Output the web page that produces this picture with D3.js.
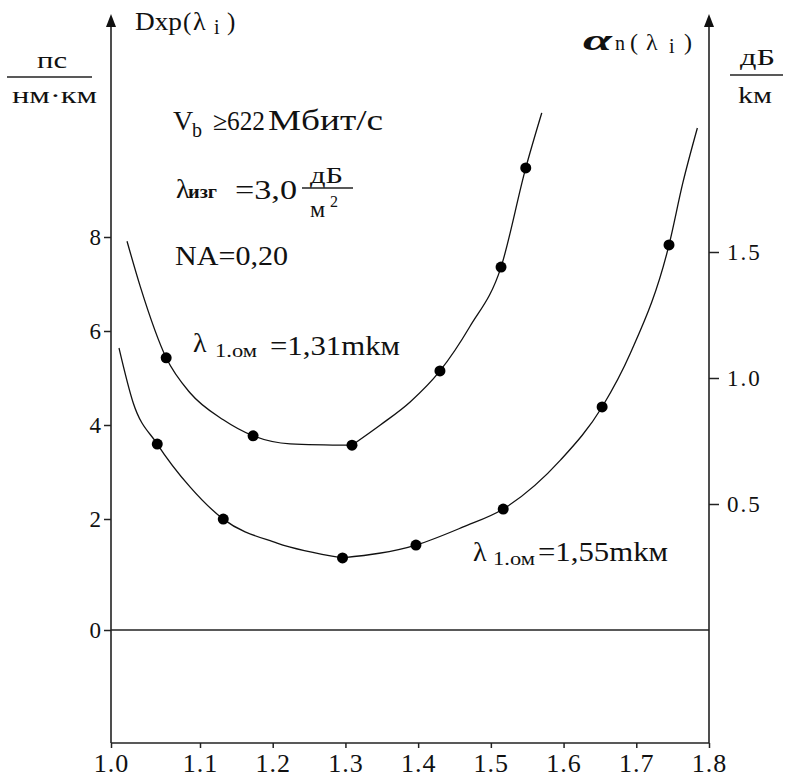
<!DOCTYPE html>
<html>
<head>
<meta charset="utf-8">
<script src="https://cdn.jsdelivr.net/npm/d3@7"></script>
<style>
  body { margin: 0; background: #fff; }
</style>
</head>
<body>
<div class="wrapper"></div>
<script>
const w = 785
const h = 780
const serif = "'Liberation Serif', 'DejaVu Serif', serif"

// tick values
const xTicks = [1.0, 1.1, 1.2, 1.3, 1.4, 1.5, 1.6, 1.7, 1.8]
const leftTicks = [0, 2, 4, 6, 8]
const rightTicks = [0.5, 1.0, 1.5]

// upper curve (λ1.ом = 1,31 mkм), left axis units
const upperLineX = [1.018, 1.033, 1.062, 1.089, 1.132, 1.173, 1.224, 1.309, 1.348, 1.389, 1.430, 1.471, 1.514, 1.548, 1.570]
const upperLineY = [7.91, 6.94, 5.43, 4.68, 4.11, 3.77, 3.60, 3.57, 4.00, 4.49, 5.15, 6.09, 7.36, 9.47, 10.64]
const upperDotX = [1.062, 1.173, 1.309, 1.430, 1.514, 1.548]
const upperDotY = [5.43, 3.77, 3.57, 5.15, 7.36, 9.47]

// lower curve (λ1.ом = 1,55 mkм), right axis units
const lowerLineX = [1.009, 1.025, 1.052, 1.089, 1.132, 1.206, 1.296, 1.397, 1.462, 1.517, 1.596, 1.653, 1.692, 1.745, 1.764, 1.784]
const lowerLineY = [1.119, 0.901, 0.738, 0.567, 0.440, 0.345, 0.286, 0.337, 0.409, 0.480, 0.675, 0.885, 1.099, 1.528, 1.774, 1.992]
const lowerDotX = [1.052, 1.132, 1.296, 1.397, 1.517, 1.653, 1.745]
const lowerDotY = [0.738, 0.440, 0.286, 0.337, 0.480, 0.885, 1.528]

const xLeft = 111
const xRight = 709
const yBottom = 743
const yTop = 14

// hand drawn axes are not quite even, so piecewise scales
const xScale = d3.scaleLinear().domain([1.0, 1.1, 1.8]).range([xLeft, 200, xRight])
const yLeft = d3.scaleLinear().domain([0, 2, 8]).range([630, 519, 237])
const yRight = d3.scaleLinear().domain([0, 1.5]).range([630, 252])

const svg = d3.select(".wrapper")
  .append("svg")
  .attr("width", w)
  .attr("height", h)
  .style("display", "block")

svg.append("rect").attr("width", w).attr("height", h).attr("fill", "#fff")

// axis lines
const axisStroke = "#222"
const hline = (x1, x2, y, sw) => svg.append("line").attr("x1", x1).attr("x2", x2).attr("y1", y).attr("y2", y)
  .attr("stroke", axisStroke).attr("stroke-width", sw)
svg.append("line").attr("x1", xLeft).attr("y1", yBottom).attr("x2", xLeft).attr("y2", yTop + 10)
  .attr("stroke", axisStroke).attr("stroke-width", 1.6)
svg.append("line").attr("x1", xRight).attr("y1", yBottom).attr("x2", xRight).attr("y2", yTop + 10)
  .attr("stroke", axisStroke).attr("stroke-width", 1.6)
hline(xLeft, xRight, yBottom, 1.6)
hline(xLeft, xRight, yLeft(0), 1.6)

// arrow heads
const arrow = (x) => "M" + x + "," + yTop + "L" + (x - 5) + "," + (yTop + 13) + "L" + (x + 5) + "," + (yTop + 13) + "Z"
svg.append("path").attr("d", arrow(xLeft)).attr("fill", "#111")
svg.append("path").attr("d", arrow(xRight)).attr("fill", "#111")

const xAxis = d3.axisBottom(xScale).tickValues(xTicks).tickFormat(d3.format(".1f")).tickSize(5).tickPadding(6)
const leftAxis = d3.axisLeft(yLeft).tickValues(leftTicks).tickSize(7).tickPadding(3)
const rightAxis = d3.axisRight(yRight).tickValues(rightTicks).tickFormat(d3.format(".1f")).tickSize(10).tickPadding(8)

const styleAxis = (size, spacing) => (g) => {
  g.select(".domain").remove()
  g.attr("font-family", null).attr("font-size", null)
  g.selectAll("line").attr("stroke", axisStroke).attr("stroke-width", 1.5)
  g.selectAll("text").attr("fill", "#111")
    .style("font-family", serif).style("font-size", size + "px").style("letter-spacing", spacing + "px")
}

svg.append("g")
  .attr("transform", "translate(0," + yBottom + ")")
  .call(xAxis)
  .call(styleAxis(26, 1))

svg.append("g")
  .attr("transform", "translate(" + xLeft + ",0)")
  .call(leftAxis)
  .call(styleAxis(23, 0))

svg.append("g")
  .attr("transform", "translate(" + xRight + ",0)")
  .call(rightAxis)
  .call(styleAxis(23, 2))

// curves, drawn in two pieces so the minimum dot keeps its corner
const curvePath = (xs, ys, yScale, from, to) => {
  const line = d3.line()
    .x((d, i) => xScale(xs[from + i]))
    .y((d) => yScale(d))
    .curve(d3.curveMonotoneX)
  svg.append("path").attr("d", line(ys.slice(from, to)))
    .attr("fill", "none").attr("stroke", "#111").attr("stroke-width", 1.3)
}

curvePath(upperLineX, upperLineY, yLeft, 0, 8)
curvePath(upperLineX, upperLineY, yLeft, 7, upperLineY.length)
curvePath(lowerLineX, lowerLineY, yRight, 0, 7)
curvePath(lowerLineX, lowerLineY, yRight, 6, lowerLineY.length)

svg.selectAll(".udot")
  .data(upperDotY)
  .enter()
  .append("circle")
  .attr("class", "udot")
  .attr("cx", (d, i) => xScale(upperDotX[i]))
  .attr("cy", (d) => yLeft(d))
  .attr("r", 5.5)
  .attr("fill", "#000")

svg.selectAll(".ldot")
  .data(lowerDotY)
  .enter()
  .append("circle")
  .attr("class", "ldot")
  .attr("cx", (d, i) => xScale(lowerDotX[i]))
  .attr("cy", (d) => yRight(d))
  .attr("r", 5.5)
  .attr("fill", "#000")

// text pieces: [text, x, y, size, width, extra style]
const label = (pieces) => {
  pieces.forEach((p) => {
    const t = svg.append("text")
      .attr("x", p[1]).attr("y", p[2])
      .attr("fill", "#111")
      .style("font-family", serif)
      .style("font-size", p[3] + "px")
      .text(p[0])
    if (p[4]) t.attr("textLength", p[4]).attr("lengthAdjust", "spacingAndGlyphs")
    if (p[5]) t.attr("style", t.attr("style") + ";" + p[5])
  })
}

// left axis title
label([["Dxp", 135, 30, 25, 47], ["(", 183, 30, 25], ["λ", 193, 30, 26], ["i", 214, 34, 20], [")", 227, 30, 25]])

// left units
label([["пс", 37, 68, 24, 30]])
hline(7, 92, 77, 1.5)
label([["нм·км", 12, 103, 24, 85]])

// right axis title
label([["α", 583, 50, 30, 29, "font-weight:bold;font-style:italic"], ["n", 615, 50, 20], ["(", 630, 50, 24],
  ["λ", 646, 50, 24], ["i", 669, 53, 20], [")", 684, 50, 24]])

// right units
label([["дБ", 740, 65, 24, 35]])
hline(730, 783, 75, 1.5)
label([["kм", 738, 103, 24, 34]])

// parameters
label([["V", 173, 130, 28], ["b", 192, 137, 20], ["≥", 213, 130, 26], ["622", 227, 130, 28, 38], ["Мбит/с", 268, 130, 29, 115]])
label([["λ", 176, 198, 28], ["изг", 188, 198, 18, 29, "font-weight:bold"], ["=3,0", 235, 199, 28, 62]])
label([["дБ", 310, 183, 24, 33]])
hline(302, 353, 188, 1.3)
label([["м", 310, 217, 24], ["2", 330, 207, 16]])
label([["NA=0,20", 175, 265, 28, 113]])

// curve labels
label([["λ", 193, 352, 28], ["1.ом", 215, 357, 18, 42], ["=1,31mkм", 270, 355, 28, 130]])
label([["λ", 473, 561, 28], ["1.ом", 493, 565, 18, 42], ["=1,55mkм", 538, 561, 28, 130]])
</script>
</body>
</html>
